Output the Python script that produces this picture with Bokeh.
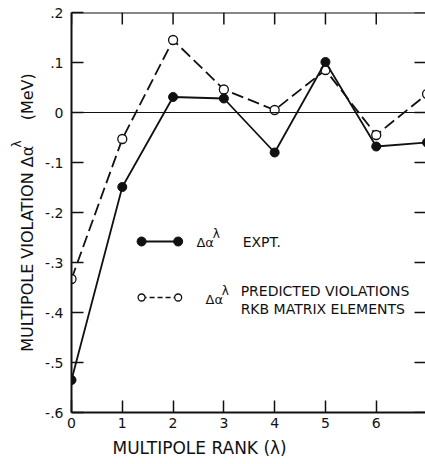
import math
from bokeh.plotting import figure
from bokeh.models import (Range1d, LinearAxis, FixedTicker, CustomJSTickFormatter,
                          Label, Span, ColumnDataSource, Title)
from bokeh.embed import file_html
from bokeh.resources import INLINE

# ---- data ----
rank = [0, 1, 2, 3, 4, 5, 6, 7]
expt = [-0.535, -0.149, 0.031, 0.028, -0.080, 0.101, -0.068, -0.060]
predicted = [-0.333, -0.053, 0.145, 0.046, 0.005, 0.085, -0.045, 0.037]
x_ticks = [0, 1, 2, 3, 4, 5, 6]
y_ticks = [-0.6, -0.5, -0.4, -0.3, -0.2, -0.1, 0.0, 0.1, 0.2]

FONT = "DejaVu Sans"
INK = "#111111"
X_END = 6.97
Y_START, Y_END = -0.6, 0.2

p = figure(width=425, height=464, output_backend="svg", toolbar_location=None,
           x_range=Range1d(0, X_END), y_range=Range1d(Y_START, Y_END),
           min_border_left=71, min_border_right=0, min_border_top=12,
           min_border_bottom=52, x_axis_location=None, y_axis_location=None)
p.outline_line_color = None
p.grid.visible = False
p.background_fill_color = "white"
p.border_fill_color = "white"

fmt = CustomJSTickFormatter(code="""
if (Math.abs(tick) < 1e-9) { return "0"; }
return tick.toFixed(1).replace("0.", ".");
""")


def style_axis(ax):
    ax.axis_line_width = 2
    ax.axis_line_color = INK
    ax.major_tick_in = 12
    ax.major_tick_out = 0
    ax.major_tick_line_width = 1.5
    ax.major_tick_line_color = INK
    ax.minor_tick_line_color = None
    ax.major_label_text_font = FONT
    ax.major_label_text_font_size = "14px"
    ax.major_label_text_color = INK
    ax.axis_label_text_font = FONT
    ax.axis_label_text_font_style = "normal"
    ax.axis_label_text_color = INK


bottom = LinearAxis(ticker=FixedTicker(ticks=x_ticks))
style_axis(bottom)
bottom.major_label_standoff = 5
p.add_layout(bottom, "below")

NB = "\u00a0"
left = LinearAxis(ticker=FixedTicker(ticks=y_ticks), formatter=fmt,
                  axis_label="MULTIPOLE VIOLATION Δα" + NB * 5 + "(MeV)")
style_axis(left)
left.major_label_standoff = 8
left.axis_label_standoff = 5
left.axis_label_text_font_size = "16px"
p.add_layout(left, "left")

# superscript lambda of the y title
p.add_layout(Title(text="λ", align="right", offset=128, standoff=-17,
                   text_font=FONT, text_font_size="12px",
                   text_font_style="normal", text_color=INK), "left")

# x title
p.add_layout(Title(text="MULTIPOLE RANK (λ)", align="left", offset=41,
                   standoff=10, text_font=FONT, text_font_size="17px",
                   text_font_style="normal", text_color=INK), "below")

# top border and inward ticks on the top and right edges
p.add_layout(Span(location=Y_END, dimension="width", line_color=INK, line_width=2))
p.ray(x=x_ticks, y=[Y_END] * len(x_ticks), length=12, length_units="screen",
      angle=-math.pi / 2, line_color=INK, line_width=1.5)
p.ray(x=[X_END] * len(y_ticks), y=y_ticks, length=11, length_units="screen",
      angle=math.pi, line_color=INK, line_width=1.5)

# zero line
p.add_layout(Span(location=0, dimension="width", line_color=INK, line_width=1))

src = ColumnDataSource(dict(rank=rank, expt=expt, predicted=predicted))

p.line("rank", "predicted", source=src, line_color=INK, line_width=1.8,
       line_dash="12 5")
p.scatter("rank", "predicted", source=src, size=9, marker="circle",
          fill_color="white", line_color=INK, line_width=1.3)
p.line("rank", "expt", source=src, line_color=INK, line_width=1.8)
p.scatter("rank", "expt", source=src, size=9, marker="circle",
          fill_color=INK, line_color=INK)

# ---- legend (drawn samples) ----
leg_x = [1.38, 2.10]
leg_y_expt = [-0.258, -0.258]
leg_y_pred = [-0.370, -0.370]
p.line(leg_x, leg_y_expt, line_color=INK, line_width=1.8)
p.scatter(leg_x, leg_y_expt, size=9, fill_color=INK, line_color=INK)
p.line(leg_x, leg_y_pred, line_color=INK, line_width=1.6, line_dash="5 3")
p.scatter(leg_x, leg_y_pred, size=7, fill_color="white", line_color=INK,
          line_width=1.3)


def lab(x, y, text, size="14px", align="left", baseline="middle"):
    p.add_layout(Label(x=x, y=y, text=text, text_font=FONT, text_font_size=size,
                       text_color=INK, text_align=align,
                       text_baseline=baseline))


lab(2.46, -0.260, "Δα", "13px")
lab(2.78, -0.243, "λ", "12px")
lab(3.37, -0.258, "EXPT.", "14px")
lab(2.64, -0.374, "Δα", "13px")
lab(2.96, -0.357, "λ", "12px")
lab(3.33, -0.356, "PREDICTED VIOLATIONS", "14px")
lab(3.33, -0.392, "RKB MATRIX ELEMENTS", "14px")

open("out.html", "w").write(file_html(p, INLINE))
